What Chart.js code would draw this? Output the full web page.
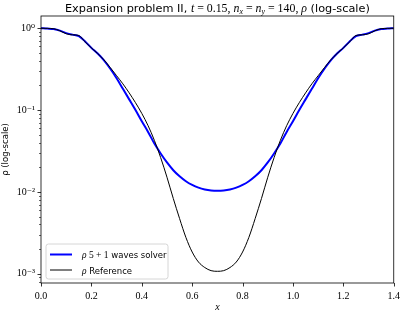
<!DOCTYPE html>
<html><head><meta charset="utf-8">
<script src="https://cdn.jsdelivr.net/npm/chart.js@4/dist/chart.umd.min.js"></script>
<style>html,body{margin:0;padding:0;background:#fff;overflow:hidden}#wrap{width:407px;height:311px;position:relative}</style>
</head><body><div id="wrap"><canvas id="c" width="407" height="311"></canvas></div>
<script>
const xValues = [0,0.025,0.05,0.075,0.1,0.125,0.15,0.175,0.2,0.225,0.25,0.275,0.3,0.325,0.35,0.375,0.4,0.425,0.45,0.475,0.5,0.525,0.55,0.575,0.6,0.625,0.65,0.675,0.7,
  0.725,0.75,0.775,0.8,0.825,0.85,0.875,0.9,0.925,0.95,0.975,1.0,1.025,1.05,1.075,1.1,1.125,1.15,1.175,1.2,1.225,1.25,1.275,1.3,1.325,1.35,1.375,1.4];
const solverRho = [1.0,0.99,0.975,0.935,0.87,0.835,0.80,0.69,0.575,0.49,0.405,0.32,0.245,0.182,0.135,0.10,0.073,0.054,0.039,0.0295,0.0229,0.0184,0.0155,0.0135,0.01216,0.01127,0.01072,0.01042,0.01033,
  0.01042,0.01072,0.01127,0.01216,0.0135,0.0155,0.0184,0.0229,0.0295,0.039,0.054,0.073,0.10,0.135,0.182,0.245,0.32,0.405,0.49,0.575,0.69,0.80,0.835,0.87,0.935,0.975,0.99,1.0];
const referenceRho = [1.0,0.995,0.985,0.93,0.855,0.83,0.815,0.68,0.575,0.49,0.41,0.33,0.263,0.209,0.162,0.123,0.091,0.0644,0.0426,0.0262,0.0151,0.0083,0.00472,0.00278,0.00184,0.00139,0.00119,0.00109,0.00107,
  0.00109,0.00119,0.00139,0.00184,0.00278,0.00472,0.0083,0.0151,0.0262,0.0426,0.0644,0.091,0.123,0.162,0.209,0.263,0.33,0.41,0.49,0.575,0.68,0.815,0.83,0.855,0.93,0.985,0.995,1.0];
const xTicks = [0,0.2,0.4,0.6,0.8,1.0,1.2,1.4];
const yMajorTicks = [1e-3,1e-2,1e-1,1];
const yTickLabels = ['10\u207B\u00B3','10\u207B\u00B2','10\u207B\u00B9','10\u2070'];
const seriesLabels = ['\u03C1 5 + 1 waves solver','\u03C1 Reference'];
const seriesColors = ['#0000ff','#000000'];
const xAxisLabel = 'x';
const yAxisLabel = '\u03C1 (log-scale)';
const titleSegments = [
  ['Expansion problem II, ','sans',false,false],
  ['t','serif',true,false],[' = 0.15, ','serif',false,false],
  ['n','serif',true,false],['x','serif',true,true],[' = ','serif',false,false],
  ['n','serif',true,false],['y','serif',true,true],[' = 140, ','serif',false,false],
  ['\u03C1','serif',true,false],[' (log-scale)','sans',false,false]
];

const SANS = '"DejaVu Sans", sans-serif';
const SERIF = '"Liberation Serif", "DejaVu Serif", serif';

const yMin = 7.7e-4, yMax = 1.41;
function buildYTicks(){
  const t=[];
  for(let e=-4;e<=0;e++){
    for(let m=1;m<=9;m++){
      const v=m*Math.pow(10,e);
      if(v>=yMin*0.999 && v<=yMax*1.001) t.push({value:v, major:m===1});
    }
  }
  return t;
}

const decor = {
  id:'decor',
  afterDraw(chart){
    const ctx=chart.ctx, ca=chart.chartArea;
    const xs=chart.scales.x, ys=chart.scales.y;
    ctx.save();
    ctx.strokeStyle='#000'; ctx.lineWidth=0.8;
    ctx.strokeRect(ca.left, ca.top, ca.right-ca.left, ca.bottom-ca.top);
    ctx.beginPath();
    xTicks.forEach(v=>{const p=Math.round(xs.getPixelForValue(v))+0.5;ctx.moveTo(p,ca.bottom);ctx.lineTo(p,ca.bottom+3.5);});
    ctx.stroke();
    buildYTicks().forEach(t=>{
      const p=Math.round(ys.getPixelForValue(t.value))+0.5;
      ctx.beginPath();
      ctx.lineWidth=t.major?0.8:0.6;
      ctx.moveTo(ca.left,p);ctx.lineTo(ca.left-(t.major?3.5:2),p);ctx.stroke();
    });
    // title
    const fs=11.3;
    const fontFor=(s,fam,it,sub)=>(it?'italic ':'')+(sub?fs*0.7:(fam==='sans'?fs:fs*1.05))+'px '+(fam==='sans'?SANS:SERIF);
    let total=0;
    titleSegments.forEach(s=>{ctx.font=fontFor(...s);total+=ctx.measureText(s[0]).width;});
    let x=(ca.left+ca.right)/2-total/2; const by=11.5;
    ctx.fillStyle='#000'; ctx.textBaseline='alphabetic'; ctx.textAlign='left';
    titleSegments.forEach(s=>{ctx.font=fontFor(...s);ctx.fillText(s[0],x,s[3]?by+2:by);x+=ctx.measureText(s[0]).width;});
    // legend
    const lx=46, ly=244, lw=122, lh=35, r=2.5;
    ctx.beginPath();
    ctx.moveTo(lx+r,ly);ctx.lineTo(lx+lw-r,ly);ctx.quadraticCurveTo(lx+lw,ly,lx+lw,ly+r);
    ctx.lineTo(lx+lw,ly+lh-r);ctx.quadraticCurveTo(lx+lw,ly+lh,lx+lw-r,ly+lh);
    ctx.lineTo(lx+r,ly+lh);ctx.quadraticCurveTo(lx,ly+lh,lx,ly+lh-r);
    ctx.lineTo(lx,ly+r);ctx.quadraticCurveTo(lx,ly,lx+r,ly);ctx.closePath();
    ctx.fillStyle='rgba(255,255,255,0.8)';ctx.fill();
    ctx.strokeStyle='#cccccc';ctx.lineWidth=0.8;ctx.stroke();
    const rows=[254.5,270];
    chart.data.datasets.forEach((ds,i)=>{
      ctx.beginPath();ctx.strokeStyle=ds.borderColor;ctx.lineWidth=ds.borderWidth;
      ctx.moveTo(50,rows[i]);ctx.lineTo(72,rows[i]);ctx.stroke();
      const lab=ds.label; const mathEnd = i===0? 7 : 1;
      let tx=82; ctx.fillStyle='#000';
      ctx.font='italic 9.5px '+SERIF; ctx.fillText(lab[0],tx,rows[i]+3.5); tx+=ctx.measureText(lab[0]).width;
      ctx.font='9.5px '+SERIF; const m=lab.slice(1,mathEnd); ctx.fillText(m,tx,rows[i]+3.5); tx+=ctx.measureText(m).width;
      ctx.font='8.5px '+SANS; ctx.fillText(lab.slice(mathEnd),tx,rows[i]+3.5);
    });
    ctx.restore();
  }
};

new Chart(document.getElementById('c'),{
  type:'line',
  data:{datasets:[
    {label:seriesLabels[0],data:xValues.map((x,i)=>({x,y:solverRho[i]})),borderColor:seriesColors[0],borderWidth:2,pointRadius:0,cubicInterpolationMode:'monotone',fill:false,order:1},
    {label:seriesLabels[1],data:xValues.map((x,i)=>({x,y:referenceRho[i]})),borderColor:seriesColors[1],borderWidth:1,pointRadius:0,cubicInterpolationMode:'monotone',fill:false,order:0}
  ]},
  options:{
    responsive:false,animation:false,devicePixelRatio:1,
    layout:{padding:{top:16,right:7,left:0,bottom:0}},
    plugins:{legend:{display:false},title:{display:false},tooltip:{enabled:false}},
    scales:{
      x:{type:'linear',min:0,max:1.4,
        afterBuildTicks:s=>{s.ticks=xTicks.map(v=>({value:v}));},
        afterFit:s=>{s.height=28;},
        grid:{display:false,drawTicks:false},border:{display:false},
        ticks:{autoSkip:false,maxRotation:0,padding:7,color:'#000',font:{family:SERIF,size:10},callback:v=>Number(v).toFixed(1)},
        title:{display:true,text:xAxisLabel,color:'#000',font:{family:SERIF,size:10,style:'italic'},padding:{top:0,bottom:-2}}
      },
      y:{type:'logarithmic',min:yMin,max:yMax,
        afterBuildTicks:s=>{s.ticks=buildYTicks();},
        afterFit:s=>{s.width=41;},
        grid:{display:false,drawTicks:false},border:{display:false},
        ticks:{autoSkip:false,padding:6,color:'#000',font:{family:SERIF,size:10},
          callback:(v)=>{const k=yMajorTicks.findIndex(m=>Math.abs(m-v)/m<1e-6);return k>=0?yTickLabels[k]:'';}},
        title:{display:true,text:yAxisLabel,color:'#000',font:{family:SANS,size:8.5},padding:{top:1,bottom:0}}
      }
    }
  },
  plugins:[decor]
});
</script></body></html>
